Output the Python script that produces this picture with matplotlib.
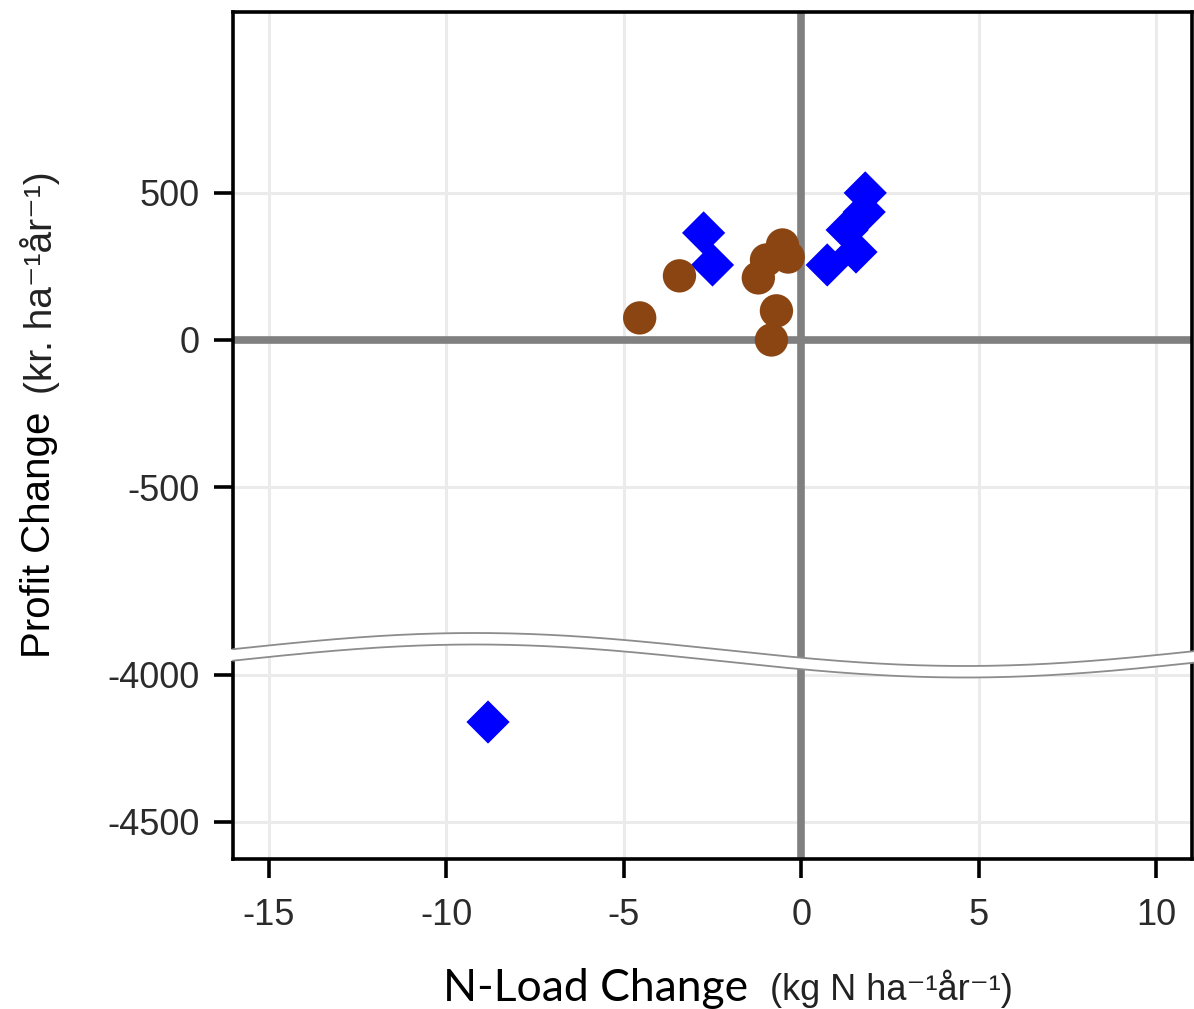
import numpy as np
import matplotlib
matplotlib.use("Agg")
import matplotlib.pyplot as plt
from matplotlib.patches import Polygon
from matplotlib.lines import Line2D

plt.rcParams["axes.unicode_minus"] = False

# data
circ_x = [-4.55, -3.43, -1.21, -0.98, -0.53, -0.37, -0.70, -0.84]
circ_y = [75, 218, 211, 272, 323, 282, 99, 0]
diam_x = [-2.75, -2.50, 0.73, 1.54, 1.29, 1.77, 1.80, -8.82]
diam_y = [364, 255, 255, 299, 374, 435, 500, -4160]

xticks = [-15, -10, -5, 0, 5, 10]
yticks_top = [500, 0, -500]
yticks_bot = [-4000, -4500]

W, H = 1194, 1009
fig = plt.figure(figsize=(W / 100, H / 100), dpi=100)

def fx(px):
    return px / W

def fy(py):
    return 1 - py / H

L, R, T, MID, B = 233, 1192, 12, 655, 859
ax_top = fig.add_axes([fx(L), fy(MID), fx(R) - fx(L), fy(T) - fy(MID)])
ax_bot = fig.add_axes([fx(L), fy(B), fx(R) - fx(L), fy(MID) - fy(B)], sharex=ax_top)

tick_family = ["Liberation Sans", "DejaVu Sans"]

for ax in (ax_top, ax_bot):
    ax.set_facecolor("white")
    ax.grid(True, color="#ebebeb", lw=2.2, zorder=0)
    ax.set_axisbelow(True)
    ax.axvline(0, color="#808080", lw=5.5, zorder=1)
    ax.scatter(diam_x, diam_y, marker="D", s=22 ** 2, color="#0000ff",
               edgecolors="none", zorder=3)
    ax.scatter(circ_x, circ_y, marker="o", s=24 ** 2, color="#8b4513",
               edgecolors="none", zorder=4)
    for sp in ax.spines.values():
        sp.set_linewidth(2.6)
        sp.set_color("black")
    ax.tick_params(length=14, width=2.6, pad=10, color="black")

ax_top.axhline(0, color="#808080", lw=5.5, zorder=1)

ax_top.set_xlim(-16, 11)
ax_top.set_ylim(-1071, 1115)
ax_bot.set_ylim(-4626, -3932)

ax_top.set_yticks(yticks_top)
ax_bot.set_yticks(yticks_bot)
ax_bot.set_xticks(xticks)

ax_top.spines["bottom"].set_visible(False)
ax_bot.spines["top"].set_visible(False)
ax_top.tick_params(axis="x", bottom=False, labelbottom=False)
ax_bot.tick_params(axis="x", pad=14)

for ax in (ax_top, ax_bot):
    for lab in ax.get_yticklabels() + ax.get_xticklabels():
        lab.set_fontfamily(tick_family)
        lab.set_fontsize(26)
        lab.set_color("#2b2b2b")

# wavy axis break
xs = np.linspace(226, 1194, 400)
up = 649.5 - 16.5 * np.cos(2 * np.pi * (xs - 475) / 980)
lo = up + 11.5
band = np.column_stack([np.r_[xs, xs[::-1]], np.r_[up, lo[::-1]]])
band_f = np.column_stack([fx(band[:, 0]), fy(band[:, 1])])
fig.add_artist(Polygon(band_f, closed=True, facecolor="white", edgecolor="none",
                       transform=fig.transFigure, zorder=10))
for yy in (up, lo):
    fig.add_artist(Line2D(fx(xs[xs >= 231]), fy(yy[xs >= 231]), color="#8c8c8c",
                          lw=1.3, transform=fig.transFigure, zorder=11))

# axis labels
fig.text(fx(443), fy(1001), "N-Load Change", family=["Lato", "DejaVu Sans"],
         size=32, color="black", ha="left", va="baseline")
fig.text(fx(770), fy(1000), "(kg N ha\u207b\u00b9\u00e5r\u207b\u00b9)",
         family=["Liberation Sans", "DejaVu Sans"], size=26, color="#222222",
         ha="left", va="baseline")
fig.text(fx(50), fy(658), "Profit Change", family=["Liberation Sans", "DejaVu Sans"],
         size=29, color="black", rotation=90, rotation_mode="anchor",
         ha="left", va="baseline")
fig.text(fx(52), fy(394), "(kr. ha\u207b\u00b9\u00e5r\u207b\u00b9)",
         family=["Liberation Sans", "DejaVu Sans"], size=28, color="#222222",
         rotation=90, rotation_mode="anchor", ha="left", va="baseline")

fig.savefig("out.png", dpi=100)
